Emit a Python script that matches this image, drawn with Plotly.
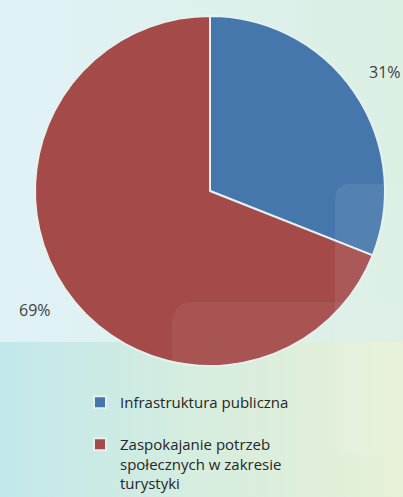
import math
import plotly.graph_objects as go

# ---- data ----
categories = ["Infrastruktura publiczna<br> ",
              "Zaspokajanie potrzeb<br>społecznych w zakresie<br>turystyki"]
values = [31, 69]
colors = ["#4577AC", "#A44B4A"]

W, H = 403, 497
FONT = "Open Sans"

fig = go.Figure()

# ---- background gradient (decoration) ----
def rect(x0, y0, x1, y1):
    return [x0, x1, x1, x0, x0], [y0, y0, y1, y1, y0]

bx, by = rect(0, 0, W, H)
fig.add_trace(go.Scatter(x=bx, y=by, mode="lines", line=dict(width=0),
                         fill="toself",
                         fillgradient=dict(type="horizontal",
                                           colorscale=[[0, "#e0f2f7"], [1, "#dbefe3"]]),
                         hoverinfo="skip", showlegend=False))
lx, ly = rect(0, 342, W, H)
fig.add_trace(go.Scatter(x=lx, y=ly, mode="lines", line=dict(width=0),
                         fill="toself",
                         fillgradient=dict(type="horizontal",
                                           colorscale=[[0, "#c2e8ec"], [0.45, "#d3ecdf"], [1, "#e6f1d5"]]),
                         hoverinfo="skip", showlegend=False))

# ---- pie ----
cx, cy, R = 210, 191, 175
fig.add_trace(go.Pie(
    labels=categories, values=values, sort=False, direction="clockwise",
    rotation=0,
    marker=dict(colors=colors, line=dict(color="#e4f1ef", width=2)),
    textinfo="none", hoverinfo="percent",
    domain=dict(x=[(cx - R) / W, (cx + R) / W],
                y=[1 - (cy + R) / H, 1 - (cy - R) / H]),
    showlegend=True,
))

# ---- percent labels placed outside, from the data ----
total = sum(values)
acc = 0
for v in values:
    mid = (acc + v / 2) / total * 2 * math.pi
    acc += v
    r = 1.21 * R
    px = cx + r * math.sin(mid)
    py = cy - r * math.cos(mid)
    fig.add_annotation(x=px / W, y=1 - py / H, xref="paper", yref="paper",
                       xanchor="center", yanchor="middle",
                       text=f"{round(v / total * 100)}%", showarrow=False,
                       font=dict(family=FONT, size=16, color="#404040"))

# ---- translucent panels (decoration) ----
def rounded(x0, y0, x1, y1, r):
    return (f"M{x0+r},{y0} L{x1-r},{y0} Q{x1},{y0} {x1},{y0+r} L{x1},{y1-r} "
            f"Q{x1},{y1} {x1-r},{y1} L{x0+r},{y1} Q{x0},{y1} {x0},{y1-r} "
            f"L{x0},{y0+r} Q{x0},{y0} {x0+r},{y0} Z")

fig.add_shape(type="path", path=rounded(172, 302, 440, 540, 22), xref="x", yref="y",
              fillcolor="rgba(255,255,255,0.05)", line=dict(width=0), layer="above")
fig.add_shape(type="path", path=rounded(335, 184, 440, 455, 16), xref="x", yref="y",
              fillcolor="rgba(255,255,255,0.08)", line=dict(width=0), layer="above")

fig.update_layout(
    width=W, height=H,
    margin=dict(l=0, r=0, t=0, b=0, autoexpand=False),
    paper_bgcolor="#dcefee", plot_bgcolor="rgba(0,0,0,0)",
    xaxis=dict(range=[0, W], visible=False, fixedrange=True),
    yaxis=dict(range=[H, 0], visible=False, fixedrange=True),
    font=dict(family=FONT, size=15, color="#262626"),
    legend=dict(x=80 / W, y=1 - 386 / H, xanchor="left", yanchor="top",
                valign="top",
                bgcolor="rgba(0,0,0,0)", font=dict(family=FONT, size=15, color="#262626"),
                tracegroupgap=0),
)

fig.write_html("out.html", config={"displayModeBar": False},
               post_script="document.body.style.margin='0';document.body.style.padding='0';")
